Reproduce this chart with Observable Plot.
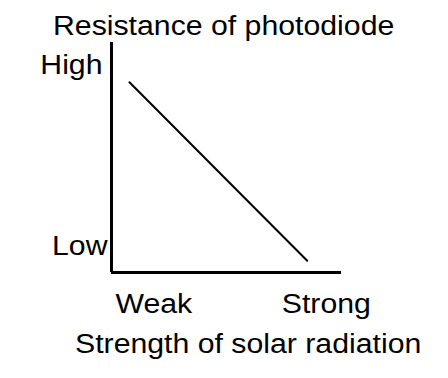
<!DOCTYPE html>
<html>
<head>
<meta charset="utf-8">
<script src="https://cdn.jsdelivr.net/npm/d3@7"></script>
<script src="https://cdn.jsdelivr.net/npm/@observablehq/plot@0.6"></script>
<style>
  html, body { margin: 0; padding: 0; background: #fff; }
  body { width: 448px; height: 378px; overflow: hidden; font-family: "Liberation Sans", Arial, sans-serif; color: #000; }
  .txt { font-size: 27px; line-height: 27px; height: 27px; white-space: nowrap; }
  .txt span { display: inline-block; transform: scaleX(1.12); transform-origin: 0 50%; }
  #title { padding-top: 13px; height: 27px; }
  #title span { margin-left: 53px; }
  #caption span { margin-left: 75px; }
  svg { display: block; }
</style>
</head>
<body>
<div id="title" class="txt"><span>Resistance of photodiode</span></div>
<div id="chart"></div>
<div id="caption" class="txt"><span>Strength of solar radiation</span></div>
<script>
// Data (abstract 0–100 scale on both axes)
const lineX = [7.8, 85.1];      // solar radiation strength
const lineY = [82.7, 5.1];      // photodiode resistance
const xTicks = [18.4, 93.4];
const xTickLabels = ["Weak", "Strong"];
const yTicks = [90.1, 11.3];
const yTickLabels = ["High", "Low"];

const lineData = lineX.map((x, i) => ({x, y: lineY[i]}));
const SX = 1.12;

const plot = Plot.plot({
  width: 448,
  height: 291,
  marginLeft: 111,
  marginRight: 107,
  marginTop: 2,
  marginBottom: 59,
  style: {fontFamily: "'Liberation Sans', Arial, sans-serif", fontSize: "27px", color: "#000", background: "#fff", overflow: "visible"},
  x: {domain: [0, 100], label: null},
  y: {domain: [0, 100], label: null},
  marks: [
    Plot.axisX(xTicks, {tickSize: 0, tickPadding: 21, fontSize: 27, label: null,
      tickFormat: d => xTickLabels[xTicks.indexOf(d)]}),
    Plot.axisY([yTicks[0]], {tickSize: 0, tickPadding: 9, fontSize: 27, label: null,
      tickFormat: d => yTickLabels[yTicks.indexOf(d)]}),
    Plot.axisY([yTicks[1]], {tickSize: 0, tickPadding: 4, fontSize: 27, label: null,
      tickFormat: d => yTickLabels[yTicks.indexOf(d)]}),
    Plot.ruleX([0], {stroke: "#000", strokeWidth: 3, shapeRendering: "crispEdges"}),
    Plot.ruleY([0], {stroke: "#000", strokeWidth: 3, shapeRendering: "crispEdges"}),
    Plot.line(lineData, {x: "x", y: "y", stroke: "#000", strokeWidth: 2})
  ]
});

// widen the glyphs horizontally about each label's anchor, like the reference lettering
plot.querySelectorAll("text").forEach(t => {
  const x = t.getAttribute("x");
  let tr = t.getAttribute("transform") || "";
  if (x != null && isFinite(+x)) {
    tr += ` translate(${+x},0)`;
    t.removeAttribute("x");
  }
  t.setAttribute("transform", `${tr} scale(${SX},1)`);
});

document.getElementById("chart").appendChild(plot);
</script>
</body>
</html>
